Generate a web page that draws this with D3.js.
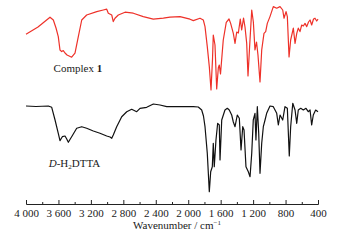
<!DOCTYPE html>
<html>
<head>
<meta charset="utf-8">
<script src="https://cdn.jsdelivr.net/npm/d3@7"></script>
<style>
  body { margin: 0; background: #fff; }
  svg text { font-family: "Liberation Serif", "Times New Roman", serif; fill: #1a1a1a; }
</style>
</head>
<body>
<div id="chart"></div>
<script>
// Wavenumber (cm-1) and offset transmittance (a.u.)
const complexWn = [4000,3852,3704,3663,3630,3602,3581,3560,3540,3519,3494,3437,3396,3355,3313,3252,3128,3047,3005,2985,2943,2924,2903,2862,2779,2677,2554,2431,2307,2225,2101,1978,1937,1855,1814,1793,1765,1740,1719,1701,1691,1670,1649,1629,1617,1602,1568,1531,1497,1477,1444,1423,1402,1382,1358,1341,1318,1300,1279,1263,1244,1217,1197,1177,1158,1140,1115,1094,1066,1045,1025,992,951,909,868,835,819,794,778,757,737,704,683,662,643,622,601,581,560,539,517,498,478,455,437,416,400];
const complexT = [82.9,86.5,91.4,90,86,81.7,75,74.2,74.7,73.5,72.5,71.4,73.4,81.7,90,92.5,94.2,95,95.4,93.4,92.5,89.2,90.9,92.5,93.9,93.4,91.7,90.4,90.9,91.4,91.7,90.4,89.7,90.9,90,86.7,76.7,66.7,55,70,82.5,77.5,55.5,66,67.5,63,80,88.8,90.5,88.3,83.3,78.3,84,83.5,90.5,85,90.9,86.5,78.3,62,76,95,89,75,79,72.5,59,75,83.3,84.2,88.3,91.7,96.7,95.9,96.7,95,90.9,94.2,91.7,71.5,80,85.9,78.3,83.3,85.9,84.2,87.5,87,88.3,86.7,89,90,87.5,90.5,90.9,89.5,90.4];

const ligandWn = [4000,3877,3725,3683,3642,3602,3581,3569,3552,3519,3498,3478,3458,3437,3375,3313,3252,3170,3088,3005,2964,2943,2924,2882,2820,2758,2697,2635,2594,2512,2430,2348,2265,2225,2101,1937,1876,1834,1812,1793,1765,1740,1723,1703,1691,1679,1658,1637,1617,1608,1587,1547,1518,1494,1464,1444,1423,1395,1370,1349,1328,1312,1288,1259,1238,1217,1198,1177,1165,1148,1131,1115,1094,1074,1053,1033,992,951,909,889,868,835,807,778,754,737,711,683,662,643,613,581,548,520,498,478,458,429,400];
const ligandT = [47,46.75,47,46.35,40,33.35,29.65,30.5,31.65,32,30.5,28.85,30.25,31.65,35.85,36.65,35.85,34.5,33.35,32,31.5,30.85,32.5,36.65,41.65,44.15,45.35,44.15,45.85,46.35,48,47.5,46.65,46.75,46.65,46.65,46.5,45,42,36.65,23.35,4.15,14.15,16.65,28.35,16.65,30,38.35,37.5,20,40,45,45.85,45,42.5,39,36.65,42.5,40.85,25,36.65,35,16.65,14.15,11.65,23.35,40,43.35,30,46.65,33.35,13.35,28.35,36.65,40,43.35,47,46.65,43.35,37.5,42.5,40,46.65,45.85,22,36.65,48.35,45,38.35,45,45.85,45,45.85,44.15,45,37.5,42.5,45,44.15];

const majorTicks = [4000,3600,3200,2800,2400,2000,1600,1200,800,400];
const minorTicks = [3800,3400,3000,2600,2200,1800,1400,1000,600];
const xTitle = "Wavenumber / cm";

const width = 338, height = 242;
const svg = d3.select("#chart").append("svg")
    .attr("width", width)
    .attr("height", height);

const x = d3.scaleLinear().domain([4000, 400]).range([26, 318]);
const y = d3.scaleLinear().domain([0, 100]).range([200, 0]);

const line = d3.line()
    .x(d => x(d[0]))
    .y(d => y(d[1]));

svg.append("path")
    .datum(d3.zip(complexWn, complexT))
    .attr("fill", "none")
    .attr("stroke", "#ee3129")
    .attr("stroke-width", 1.2)
    .attr("stroke-linejoin", "round")
    .attr("d", line);

svg.append("path")
    .datum(d3.zip(ligandWn, ligandT))
    .attr("fill", "none")
    .attr("stroke", "#111")
    .attr("stroke-width", 1.2)
    .attr("stroke-linejoin", "round")
    .attr("d", line);

// bottom axis, ticks pointing up
const axisY = 204;
const fmt = d => d >= 1000 ? d3.format(",")(d).replace(",", " ") : d;
const ax = svg.append("g")
    .attr("transform", "translate(0," + axisY + ")")
    .call(d3.axisBottom(x).tickValues(majorTicks).tickSize(-4).tickSizeOuter(-4).tickPadding(5).tickFormat(fmt));
ax.selectAll("text").attr("font-size", 11).attr("font-family", null);
ax.select(".domain").attr("stroke", "#222");
ax.selectAll(".tick line").attr("stroke", "#222");

const axMinor = svg.append("g")
    .attr("transform", "translate(0," + axisY + ")")
    .call(d3.axisBottom(x).tickValues(minorTicks).tickSize(-2).tickFormat(""));
axMinor.select(".domain").remove();
axMinor.selectAll(".tick line").attr("stroke", "#222");

const title = svg.append("text")
    .attr("x", 177)
    .attr("y", 229)
    .attr("text-anchor", "middle")
    .attr("font-size", 11)
    .text(xTitle);
title.append("tspan").attr("font-size", 7).attr("dy", -4).text("\u22121");

// spectrum labels
const lab1 = svg.append("text")
    .attr("x", x(3660))
    .attr("y", 72)
    .attr("font-size", 11)
    .text("Complex ");
lab1.append("tspan").attr("font-weight", "bold").text("1");

const lab2 = svg.append("text")
    .attr("x", x(3720))
    .attr("y", 167)
    .attr("font-size", 11);
lab2.append("tspan").attr("font-style", "italic").text("D");
lab2.append("tspan").text("-H");
lab2.append("tspan").attr("font-size", 7).attr("dy", 2).text("2");
lab2.append("tspan").attr("dy", -2).text("DTTA");
</script>
</body>
</html>
